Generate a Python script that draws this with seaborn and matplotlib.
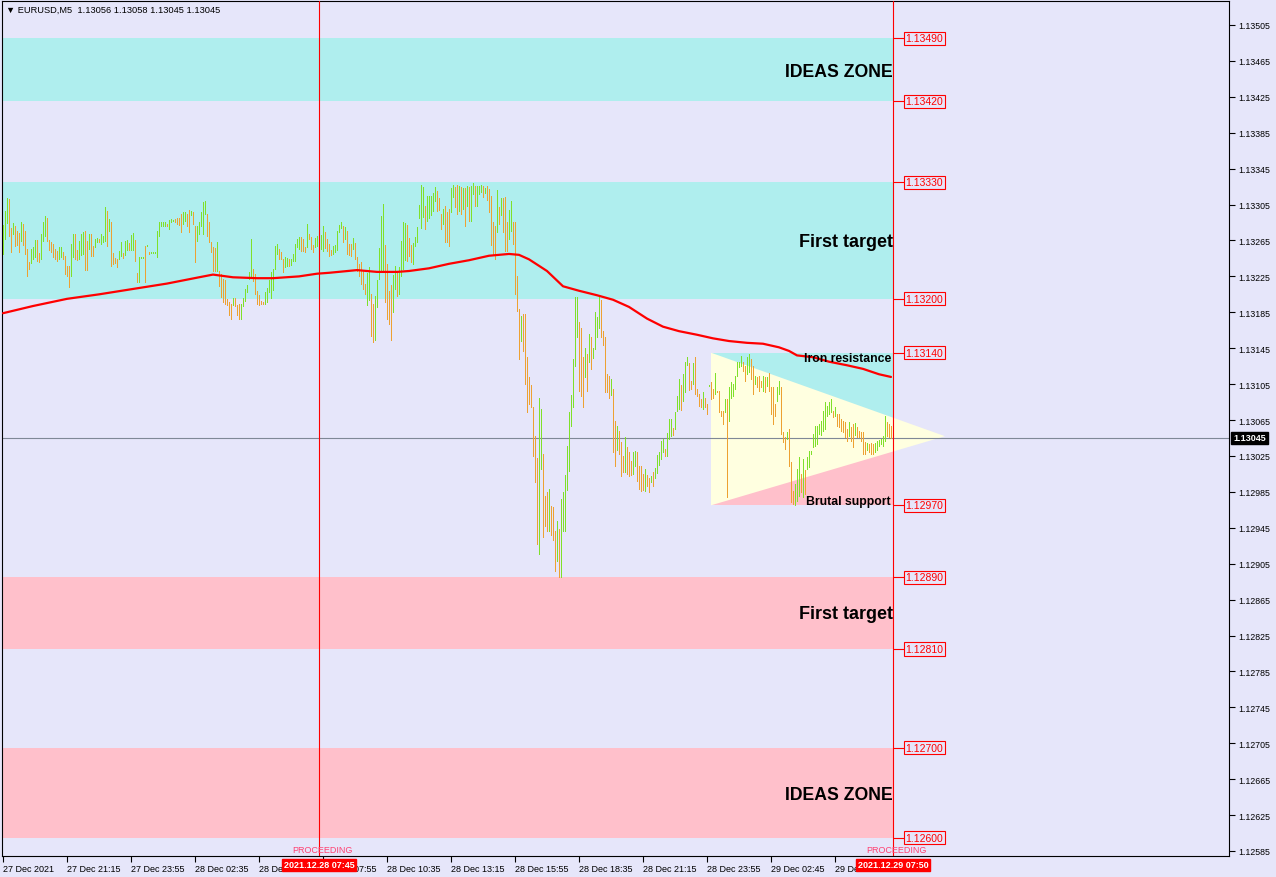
import numpy as np
import pandas as pd
import matplotlib
matplotlib.use('Agg')
import matplotlib.pyplot as plt
import matplotlib.transforms as mtransforms
import seaborn as sns

# EURUSD M5 bars, prices in points (1e-5), one entry per bar from 27 Dec 18:35
bar_high = [
    113282, 113298, 113312, 113311, 113279, 113284, 113281, 113276, 113273, 113286,
    113283, 113276, 113256, 113241, 113256, 113258, 113266, 113266, 113251, 113272,
    113286, 113292, 113290, 113266, 113263, 113261, 113256, 113253, 113258, 113258,
    113252, 113248, 113237, 113237, 113261, 113272, 113272, 113254, 113264, 113272,
    113274, 113276, 113264, 113272, 113272, 113259, 113267, 113268, 113267, 113272,
    113270, 113302, 113298, 113289, 113286, 113251, 113246, 113244, 113253, 113263,
    113251, 113264, 113266, 113262, 113271, 113273, 113266, 113229, 113247, 113247,
    113247, 113259, 113260, 113252, 113252, 113252, 113252, 113276, 113286, 113286,
    113286, 113286, 113283, 113288, 113289, 113288, 113289, 113290, 113290, 113294,
    113297, 113297, 113294, 113299, 113298, 113297, 113281, 113281, 113286, 113297,
    113308, 113309, 113294, 113286, 113263, 113258, 113257, 113263, 113231, 113228,
    113222, 113221, 113200, 113197, 113194, 113201, 113201, 113193, 113194, 113194,
    113201, 113211, 113215, 113230, 113267, 113233, 113228, 113209, 113204, 113198,
    113197, 113208, 113212, 113221, 113230, 113233, 113259, 113261, 113256, 113252,
    113244, 113247, 113246, 113244, 113244, 113250, 113261, 113267, 113269, 113269,
    113267, 113258, 113283, 113272, 113269, 113260, 113268, 113270, 113267, 113271,
    113281, 113274, 113267, 113261, 113254, 113259, 113260, 113276, 113282, 113286,
    113281, 113280, 113276, 113261, 113261, 113268, 113262, 113247, 113239, 113241,
    113232, 113217, 113229, 113236, 113205, 113194, 113203, 113221, 113257, 113292,
    113306, 113260, 113239, 113209, 113215, 113227, 113237, 113231, 113236, 113264,
    113286, 113284, 113282, 113268, 113260, 113262, 113269, 113280, 113305, 113327,
    113325, 113303, 113315, 113315, 113315, 113318, 113325, 113320, 113312, 113294,
    113300, 113303, 113297, 113300, 113323, 113327, 113325, 113327, 113326, 113325,
    113323, 113323, 113326, 113325, 113326, 113329, 113326, 113326, 113326, 113327,
    113326, 113323, 113326, 113322, 113315, 113286, 113281, 113321, 113302, 113312,
    113312, 113313, 113286, 113299, 113309, 113286, 113286, 113225, 113189, 113181,
    113183, 113183, 113135, 113113, 113104, 113079, 113047, 113023, 113090, 113077,
    113027, 112980, 112985, 112988, 112969, 112968, 112941, 112953, 112944, 112977,
    112985, 113004, 113036, 113074, 113093, 113133, 113202, 113202, 113174, 113168,
    113135, 113145, 113139, 113161, 113157, 113145, 113185, 113180, 113203, 113199,
    113164, 113157, 113116, 113114, 113111, 113100, 113064, 113058, 113053, 113041,
    113025, 113046, 113035, 113029, 113019, 113029, 113031, 113029, 113014, 113014,
    113005, 113010, 113004, 113001, 113003, 113007, 113012, 113026, 113029, 113042,
    113044, 113033, 113051, 113066, 113066, 113056, 113074, 113092, 113111, 113104,
    113116, 113130, 113135, 113128, 113108, 113128, 113135, 113100, 113094, 113088,
    113096, 113090, 113083, 113104, 113107, 113100, 113117, 113097, 113097, 113075,
    113075, 113088, 113088, 113102, 113107, 113105, 113114, 113130, 113130, 113136,
    113130, 113125, 113135, 113139, 113133, 113125, 113114, 113113, 113114, 113108,
    113114, 113113, 113113, 113117, 113102, 113102, 113083, 113102, 113108, 113102,
    113052, 113046, 113052, 113055, 113018, 112986, 112994, 113010, 113024, 113005,
    113022, 113009, 113024, 113031, 113031, 113049, 113058, 113058, 113061, 113064,
    113075, 113085, 113081, 113085, 113088, 113075, 113079, 113072, 113072, 113066,
    113064, 113063, 113055, 113063, 113057, 113061, 113062, 113057, 113053, 113052,
    113052, 113041, 113039, 113038, 113039, 113038, 113039, 113042, 113043, 113044,
    113047, 113069, 113063, 113061, 113058,
]
bar_low = [
    113250, 113267, 113284, 113270, 113252, 113272, 113259, 113260, 113252, 113264,
    113260, 113250, 113225, 113233, 113240, 113244, 113247, 113242, 113241, 113244,
    113264, 113270, 113264, 113254, 113252, 113247, 113244, 113242, 113244, 113247,
    113244, 113228, 113225, 113213, 113225, 113247, 113244, 113243, 113244, 113249,
    113250, 113232, 113232, 113256, 113248, 113248, 113258, 113263, 113263, 113261,
    113263, 113264, 113259, 113276, 113237, 113239, 113240, 113236, 113244, 113248,
    113246, 113249, 113254, 113254, 113254, 113254, 113242, 113219, 113219, 113246,
    113246, 113219, 113259, 113250, 113251, 113251, 113251, 113247, 113270, 113281,
    113281, 113281, 113281, 113278, 113286, 113287, 113286, 113283, 113282, 113274,
    113283, 113287, 113281, 113274, 113293, 113283, 113241, 113264, 113272, 113281,
    113272, 113294, 113270, 113263, 113252, 113231, 113231, 113231, 113214, 113202,
    113197, 113194, 113193, 113182, 113178, 113193, 113192, 113182, 113178, 113178,
    113192, 113198, 113208, 113222, 113225, 113220, 113205, 113194, 113193, 113194,
    113194, 113194, 113197, 113208, 113201, 113210, 113233, 113250, 113244, 113244,
    113230, 113236, 113237, 113237, 113238, 113242, 113242, 113258, 113256, 113253,
    113253, 113252, 113258, 113267, 113256, 113252, 113258, 113259, 113258, 113256,
    113253, 113257, 113253, 113248, 113249, 113250, 113252, 113254, 113274, 113279,
    113263, 113267, 113250, 113249, 113248, 113256, 113244, 113231, 113225, 113217,
    113211, 113205, 113193, 113199, 113159, 113152, 113154, 113191, 113222, 113232,
    113230, 113197, 113178, 113172, 113154, 113185, 113211, 113203, 113205, 113225,
    113233, 113243, 113242, 113248, 113241, 113239, 113259, 113263, 113290, 113279,
    113291, 113278, 113287, 113290, 113293, 113298, 113309, 113298, 113299, 113278,
    113283, 113263, 113263, 113259, 113297, 113313, 113302, 113294, 113298, 113294,
    113300, 113281, 113303, 113287, 113287, 113317, 113303, 113303, 113317, 113319,
    113313, 113318, 113310, 113297, 113260, 113250, 113244, 113274, 113283, 113293,
    113274, 113253, 113253, 113267, 113276, 113261, 113205, 113186, 113133, 113153,
    113142, 113105, 113074, 113083, 113079, 113025, 112996, 112927, 112916, 113010,
    112935, 112947, 112941, 112941, 112937, 112931, 112897, 112908, 112890, 112890,
    112941, 112941, 112987, 113008, 113058, 113079, 113125, 113157, 113097, 113092,
    113079, 113113, 113097, 113130, 113122, 113134, 113144, 113157, 113168, 113157,
    113149, 113096, 113096, 113089, 113093, 113029, 113014, 113032, 113027, 113003,
    113007, 113007, 113005, 113003, 113004, 113005, 113014, 112997, 112988, 112986,
    112987, 112986, 112991, 112985, 112996, 112991, 113000, 113006, 113015, 113022,
    113029, 113025, 113025, 113044, 113047, 113048, 113055, 113075, 113077, 113076,
    113086, 113096, 113126, 113098, 113100, 113105, 113094, 113092, 113081, 113079,
    113077, 113079, 113072, 113103, 113088, 113090, 113094, 113096, 113074, 113069,
    113061, 113074, 112979, 113064, 113090, 113092, 113100, 113114, 113124, 113125,
    113120, 113108, 113116, 113118, 113111, 113094, 113105, 113102, 113097, 113102,
    113097, 113096, 113103, 113097, 113072, 113061, 113069, 113086, 113094, 113050,
    113041, 113033, 113044, 113014, 112974, 112971, 112970, 112975, 112980, 112985,
    112979, 112983, 113010, 113013, 113027, 113035, 113036, 113038, 113049, 113048,
    113053, 113055, 113069, 113072, 113074, 113068, 113069, 113058, 113057, 113053,
    113052, 113046, 113042, 113047, 113042, 113035, 113048, 113046, 113046, 113042,
    113027, 113027, 113032, 113029, 113027, 113027, 113029, 113032, 113036, 113038,
    113036, 113042, 113047, 113046, 113045,
]

# moving average (red line), sampled at bar numbers
ma_bar = [0, 15, 32, 48, 65, 82, 98, 105, 115, 127, 135, 148, 157, 163, 177, 187,
          197, 203, 213, 223, 233, 243, 253, 258, 263, 272, 280, 288, 297, 305, 313,
          322, 330, 338, 347, 355, 363, 372, 380, 388, 393, 397, 405, 413, 422, 430,
          438, 444]
ma_pts = [113184, 113192, 113200, 113205, 113211, 113217, 113224, 113227, 113224,
          113223, 113223, 113225, 113228, 113229, 113232, 113230, 113230, 113231,
          113234, 113239, 113243, 113248, 113250, 113249, 113244, 113231, 113214,
          113209, 113204, 113199, 113191, 113178, 113169, 113164, 113160, 113156,
          113153, 113151, 113150, 113146, 113142, 113137, 113135, 113130, 113126,
          113122, 113116, 113113]

# zones (blue = upper, pink = lower)
zone_top = [1.13490, 1.13330, 1.12890, 1.12700]
zone_bottom = [1.13420, 1.13200, 1.12810, 1.12600]
level_prices = [1.13490, 1.13420, 1.13330, 1.13200, 1.13140,
                1.12970, 1.12890, 1.12810, 1.12700, 1.12600]

# triangle drawing object
tri_bar = [354, 354, 471]
tri_price = [1.13140, 1.12970, 1.13047]

zone_text = ['IDEAS ZONE', 'First target', 'Iron resistance', 'Brutal support',
             'First target', 'IDEAS ZONE']
zone_text_price = [1.13453, 1.13264, 1.13134, 1.12975, 1.12849, 1.12648]

vline_bar = [158, 445]
vline_label = ['2021.12.28 07:45', '2021.12.29 07:50']
bid_price = 1.13045

xtick_bar = [0, 32, 64, 96, 128, 160, 192, 224, 256, 288, 320, 352, 384, 416]
xtick_label = ['27 Dec 2021', '27 Dec 21:15', '27 Dec 23:55', '28 Dec 02:35',
               '28 Dec 05:15', '28 Dec 07:55', '28 Dec 10:35', '28 Dec 13:15',
               '28 Dec 15:55', '28 Dec 18:35', '28 Dec 21:15', '28 Dec 23:55',
               '29 Dec 02:45', '29 Dec 05:25']
ytick_price = [1.13505, 1.13465, 1.13425, 1.13385, 1.13345, 1.13305, 1.13265,
               1.13225, 1.13185, 1.13145, 1.13105, 1.13065, 1.13025, 1.12985,
               1.12945, 1.12905, 1.12865, 1.12825, 1.12785, 1.12745, 1.12705,
               1.12665, 1.12625, 1.12585]

BG = '#E6E6FA'
BLUE = '#AFEEEE'
PINK = '#FFC0CB'
UP = '#7FE02A'
DOWN = '#EDA132'

sns.set_theme(style='white', rc={'axes.facecolor': BG, 'figure.facecolor': BG,
                                 'axes.edgecolor': 'black'})
plt.rcParams['font.family'] = ['Liberation Sans', 'DejaVu Sans']

fig = plt.figure(figsize=(12.76, 8.78), dpi=100)
ax = fig.add_axes([2 / 1276, 21 / 878, 1227 / 1276, 855 / 878])
ax.set_xlim(-0.5, 613)
ax.set_ylim(1.1257943, 1.1353173)

end_bar = vline_bar[1]

# zones
for k, (top, bot) in enumerate(zip(zone_top, zone_bottom)):
    ax.fill_between([-1, end_bar], bot, top, color=BLUE if k < 2 else PINK,
                    lw=0, zorder=1)

# triangle with blue/pink outside parts
ax.fill_between([tri_bar[0], end_bar], tri_price[2], tri_price[0], color=BLUE, lw=0, zorder=1.2)
ax.fill_between([tri_bar[0], end_bar], tri_price[1], tri_price[2], color=PINK, lw=0, zorder=1.2)
ax.fill(tri_bar, tri_price, color='#FFFFE0', lw=0, zorder=1.4)

# bid line
ax.axhline(bid_price, color='#7F8896', lw=0.8, zorder=2)

# bars: thin high-low lines, green when rising, orange when falling
bars = pd.DataFrame({'high': np.array(bar_high) / 1e5, 'low': np.array(bar_low) / 1e5})
bars['bar'] = np.arange(len(bars))
mid = (bars['high'] + bars['low']) / 2
colors = np.where(mid.diff().fillna(0) >= 0, UP, DOWN)
ax.vlines(bars['bar'], bars['low'], bars['high'], colors=colors, lw=0.5,
          antialiased=False, zorder=3)

# moving average
ma = pd.DataFrame({'bar': ma_bar, 'price': np.array(ma_pts) / 1e5})
sns.lineplot(data=ma, x='bar', y='price', color='red', lw=1.6, ax=ax, zorder=4)

# vertical lines + labels
xtrans = mtransforms.blended_transform_factory(ax.transData, ax.transAxes)
for b, lab in zip(vline_bar, vline_label):
    ax.axvline(b, color='red', lw=0.8, zorder=5)
    ax.text(b + 1.5, 0.008, 'PROCEEDING', transform=xtrans, ha='center', va='center',
            fontsize=6.5, color='#FF4070', zorder=6)
    ax.text(b, -0.0105, lab, transform=xtrans, ha='center', va='center',
            fontsize=6.5, color='white', fontweight='bold', zorder=10, clip_on=False,
            bbox=dict(boxstyle='square,pad=0.2', fc='#FF0000', ec='#FF0000'))

# price level marks at right of the chart
for p in level_prices:
    ax.hlines(p, end_bar, end_bar + 5.5, color='red', lw=0.8, zorder=5)
    ax.text(end_bar + 6.3, p, f'{p:.5f}', ha='left', va='center', fontsize=7.5,
            color='red', zorder=6,
            bbox=dict(boxstyle='square,pad=0.15', fc=BG, ec='red', lw=0.8))

# zone texts
sizes = [12.7, 13, 8.8, 8.8, 13, 12.7]
for txt, p, s in zip(zone_text, zone_text_price, sizes):
    xr = end_bar if s > 10 else end_bar - 1
    ax.text(xr, p, txt, ha='right', va='center', fontsize=s, fontweight='bold',
            color='black', zorder=6)

# axes
ax.set_xticks(xtick_bar, xtick_label)
ax.set_yticks(ytick_price, [f'{v:.5f}' for v in ytick_price])
ax.yaxis.tick_right()
ax.tick_params(axis='x', bottom=True, length=4, width=0.8, pad=2, labelsize=6.5,
               colors='black')
ax.tick_params(axis='y', right=True, left=False, labelright=True, labelleft=False,
               length=4, width=0.8, pad=3, labelsize=6.3, colors='black')
for lbl in ax.get_xticklabels():
    lbl.set_horizontalalignment('left')
for sp in ax.spines.values():
    sp.set_color('black')
    sp.set_linewidth(0.8)
ax.set_xlabel('')
ax.set_ylabel('')

ytrans = mtransforms.blended_transform_factory(ax.transAxes, ax.transData)
ax.text(1.0035, bid_price, f'{bid_price:.5f}', transform=ytrans, ha='left', va='center',
        fontsize=6.5, color='white', fontweight='bold', clip_on=False, zorder=10,
        bbox=dict(boxstyle='square,pad=0.2', fc='black', ec='black'))

fig.text(6 / 1276, 1 - 10 / 878, '\u25bc EURUSD,M5  1.13056 1.13058 1.13045 1.13045',
         ha='left', va='center', fontsize=6.7, color='black')

fig.savefig('out.png', dpi=100)
